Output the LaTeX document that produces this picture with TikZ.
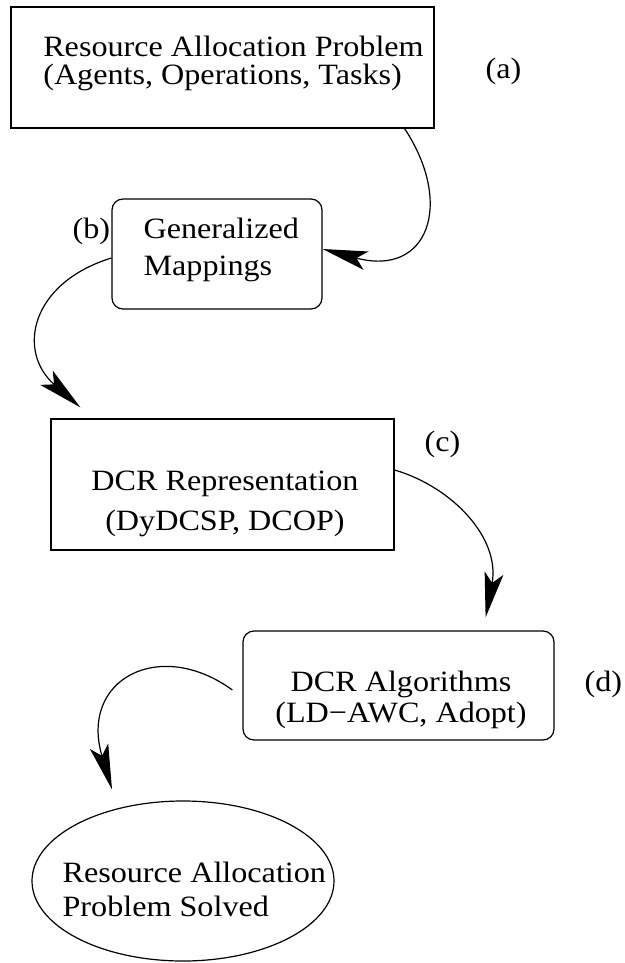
\documentclass[tikz,border=0pt]{standalone}
\usepackage{fontspec}
\setmainfont{Liberation Serif}[FakeStretch=1.09]
\usetikzlibrary{arrows.meta,calc,shapes.geometric}
\begin{document}
\begin{tikzpicture}[x=1pt,y=-1pt,
  line width=1.2pt,
  sq/.style={draw, rectangle, inner sep=0pt},
  rnd/.style={draw, rectangle, rounded corners=11pt, inner sep=0pt},
  ell/.style={draw, ellipse, inner sep=0pt},
  txt/.style={inner sep=0pt, font=\fontsize{29.5}{30}\selectfont},
  lbl/.style={inner sep=0pt, anchor=base west, font=\fontsize{29.5}{30}\selectfont},
  arr/.style={-{Stealth[length=45pt,width=19pt,inset=10pt]}, line width=1.2pt},
]
\fill[white] (0,0) rectangle (624,963);
\useasboundingbox (0,0) rectangle (624,963);

% shapes
\node[sq, minimum width=423pt, minimum height=121pt] (A) at (222.5,67.5) {};
\node[rnd, minimum width=210pt, minimum height=110pt] (B) at (217,254) {};
\node[sq, minimum width=343pt, minimum height=131pt] (C) at (222.5,484.5) {};
\node[rnd, minimum width=311pt, minimum height=109pt] (D) at (398.5,685.5) {};
\node[ell, minimum width=302pt, minimum height=160pt] (E) at (183,881) {};

% texts
\node[txt, anchor=base west] (At) at (42.7,57) {\begin{tabular}[t]{@{}l@{}}Resource Allocation Problem\\[-2pt](Agents, Operations, Tasks)\end{tabular}};
\node[txt, anchor=base west] (Bt) at (143,238) {\begin{tabular}[t]{@{}l@{}}Generalized\\[7pt]Mappings\end{tabular}};
\node[txt, anchor=base] (Ct) at (225,490) {\begin{tabular}[t]{@{}c@{}}DCR Representation\\[10pt](DyDCSP, DCOP)\end{tabular}};
\node[txt, anchor=base] (Dt) at (401,691) {\begin{tabular}[t]{@{}c@{}}DCR Algorithms\\[1pt](LD−AWC, Adopt)\end{tabular}};
\node[txt, anchor=base west] (Et) at (62,882) {\begin{tabular}[t]{@{}l@{}}Resource Allocation\\[4pt]Problem Solved\end{tabular}};

% labels
\node[lbl] (la) at (485,79) {(a)};
\node[lbl] (lb) at (72,238) {(b)};
\node[lbl] (lc) at (424,451) {(c)};
\node[lbl] (ld) at (584,691) {(d)};

% connectors
\draw[arr] ($(A.south east)+(-30,0)$) .. controls +(49.5,75) and +(106,28.5) .. ($(B.east)+(0,-5)$);
\draw[arr] ($(B.west)+(0,4)$) .. controls +(-81,25) and +(-64,-56) .. ($(C.north west)+(30,-11)$);
\draw[arr] ($(C.east)+(0,-14.5)$) .. controls +(58,17) and +(15,-79) .. ($(D.north east)+(-69,-13)$);
\draw[arr] ($(D.west)+(-10,4.5)$) .. controls +(-73,-53) and +(-33,-110) .. ($(E.north)+(-71,-11)$);
\end{tikzpicture}
\end{document}
